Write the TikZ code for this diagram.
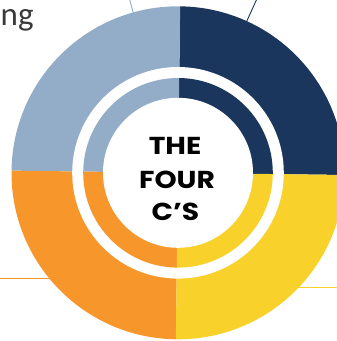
\documentclass[tikz,border=0pt]{standalone}
\usepackage{fontspec}
\newfontfamily\labelfont{Carlito}
\newfontfamily\titlefont{Poppins}[FakeStretch=1.15]
\definecolor{cblue}{HTML}{93ADC9}
\definecolor{cnavy}{HTML}{1B365D}
\definecolor{cyellow}{HTML}{F9D12B}
\definecolor{corange}{HTML}{F7962A}
\definecolor{ctext}{HTML}{3A3A3A}
\newcommand\ringsector[4]{%
  \fill[#1] (c) -- ([shift={(#2:#4)}]c) arc[start angle=#2, end angle=#3, radius=#4] -- cycle;}
\tikzset{
  leader/.style={line width=0.9pt},
  title/.style={font=\titlefont\bfseries\fontsize{24.5}{28}\selectfont, text=black, anchor=base, inner sep=0pt},
}
\begin{document}
\begin{tikzpicture}[x=1pt,y=1pt]
\useasboundingbox (0,0) rectangle (337,341);
\clip (0,0) rectangle (337,341);
\coordinate (c) at (178,168.2);
% leader lines, drawn first so the ring covers their inner ends
\coordinate (nv1) at ([shift={(65.6:160)}]c);
\coordinate (nv2) at ([shift={(65.6:220)}]c);
\coordinate (bl1) at ([shift={(105.6:160)}]c);
\coordinate (bl2) at ([shift={(105.6:220)}]c);
\coordinate (or1) at (-2,63);
\coordinate (or2) at (55,63);
\coordinate (ye1) at (292,54);
\coordinate (ye2) at (340,54);
\draw[leader, cnavy] (nv1) -- (nv2);
\draw[leader, cblue] (bl1) -- (bl2);
\draw[leader, corange] (or1) -- (or2);
\draw[leader, cyellow] (ye1) -- (ye2);
% outer ring
\ringsector{cnavy}{-0.75}{89.25}{166.5}
\ringsector{cblue}{89.25}{179.25}{166.5}
\ringsector{corange}{179.25}{269.25}{166.5}
\ringsector{cyellow}{269.25}{359.25}{166.5}
\fill[white] (c) circle[radius=105.8];
% inner ring
\ringsector{cnavy}{-0.75}{89.25}{94.8}
\ringsector{cblue}{89.25}{179.25}{94.8}
\ringsector{corange}{179.25}{269.25}{94.8}
\ringsector{cyellow}{269.25}{359.25}{94.8}
\fill[white] (c) circle[radius=75];
% title
\node[title] (t1) at (175,186) {THE};
\node[title] (t2) at (177,152.7) {FOUR};
\node[title] (t3) at (175.5,121) {C’S};
% caption fragment
\node[font=\labelfont\fontsize{33}{36}\selectfont, text=ctext, anchor=base west, inner sep=0pt] (cap) at (0.5,315) {ng};
\end{tikzpicture}
\end{document}
